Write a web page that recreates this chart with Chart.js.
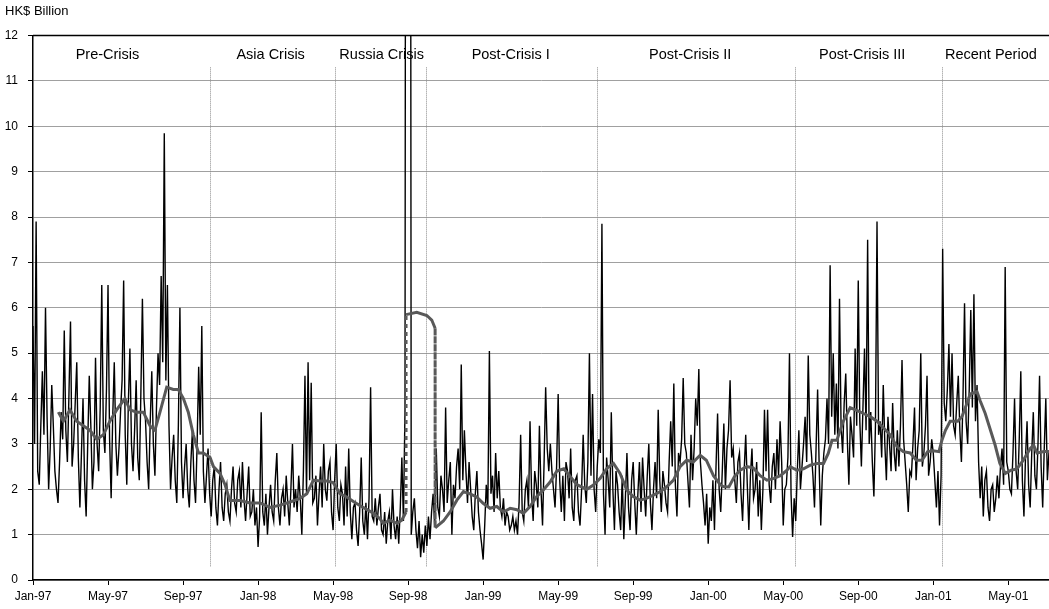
<!DOCTYPE html>
<html>
<head>
<meta charset="utf-8">
<title>HK$ Billion</title>
<script src="https://cdn.jsdelivr.net/npm/chart.js@4.4.0/dist/chart.umd.min.js"></script>
<style>
  html, body { margin: 0; padding: 0; background: #fff; }
  #wrap { width: 1049px; height: 609px; }
</style>
</head>
<body>
<div id="wrap"><canvas id="flowChart" width="1049" height="609"></canvas></div>
<script>
// x values are months counted from Jan-97
const tickMonths = [0, 4, 8, 12, 16, 20, 24, 28, 32, 36, 40, 44, 48, 52];
const tickLabels = ['Jan-97', 'May-97', 'Sep-97', 'Jan-98', 'May-98', 'Sep-98', 'Jan-99',
                    'May-99', 'Sep-99', 'Jan-00', 'May-00', 'Sep-00', 'Jan-01', 'May-01'];

const periodNames = ['Pre-Crisis', 'Asia Crisis', 'Russia Crisis', 'Post-Crisis I',
                     'Post-Crisis II', 'Post-Crisis III', 'Recent Period'];
const periodLabelMonths = [3.97, 12.67, 18.59, 25.47, 35.04, 44.21, 51.07];
const periodBreaks = [9.44, 16.1, 20.96, 30.08, 40.64, 48.48];

// turnover readings, one every 1/12 month from Jan-97
const STEP = 1 / 12;
const turnover = [
  5.6, 3.0, 7.9, 2.4, 2.1, 3.4, 4.6, 3.2, 6.0, 3.6, 2.0, 2.9, 4.3, 3.4, 2.4, 2.0, 1.7, 2.6, 3.7, 3.1,
  5.5, 3.3, 2.6, 4.1, 5.7, 2.5, 3.0, 3.9, 4.8, 2.7, 1.6, 2.8, 4.0, 2.2, 1.4, 3.0, 4.5, 3.4, 2.0, 2.6,
  4.9, 3.0, 2.4, 3.8, 6.5, 3.3, 2.8, 4.2, 6.5, 3.1, 1.8, 3.6, 4.8, 3.0, 2.3, 2.9, 3.7, 4.4, 6.6, 3.2,
  2.1, 3.9, 5.1, 3.0, 2.4, 3.3, 4.4, 2.7, 2.2, 4.1, 6.2, 4.0, 3.5, 2.6, 2.0, 3.5, 4.6, 3.0, 2.3, 3.8,
  5.0, 4.3, 6.7, 4.8, 9.85, 4.4, 6.5, 3.4, 2.0, 2.7, 3.2, 2.2, 1.7, 3.4, 6.0, 2.6, 1.8, 2.5, 3.0, 2.0,
  1.6, 2.6, 3.3, 2.2, 1.7, 3.0, 4.7, 3.2, 5.6, 2.4, 1.7, 2.3, 2.9, 1.9, 1.4, 2.2, 2.5, 1.6, 1.2, 2.0,
  2.6, 1.6, 1.3, 1.9, 2.1, 1.5, 1.3, 2.0, 2.5, 1.7, 1.5, 2.2, 2.4, 1.6, 2.6, 1.8, 1.3, 1.9, 2.5, 1.4,
  1.5, 2.0, 1.2, 1.6, 0.73, 1.4, 3.7, 1.5, 1.2, 1.9, 1.0, 1.6, 2.1, 1.5, 1.3, 2.2, 2.8, 1.6, 1.2, 1.8,
  2.0, 1.4, 2.3, 1.7, 1.2, 2.0, 3.0, 1.6, 2.0, 1.5, 2.3, 1.8, 1.0, 2.4, 4.5, 1.9, 4.8, 2.2, 4.35, 1.7,
  1.8, 2.3, 1.2, 1.9, 2.5, 1.6, 3.0, 2.0, 1.75, 2.4, 2.6, 1.5, 1.1, 2.2, 3.0, 1.6, 1.3, 2.1, 1.9, 1.2,
  2.5, 1.4, 2.9, 1.5, 0.9, 1.6, 1.7, 1.1, 0.75, 1.5, 2.7, 1.3, 1.0, 1.7, 0.9, 1.8, 4.25, 1.4, 1.3, 1.8,
  1.2, 1.6, 1.9, 1.1, 1.0, 1.5, 0.8, 1.3, 1.5, 0.9, 2.0, 1.2, 0.9, 1.4, 0.8, 1.6, 2.7, 1.3, 3.75, 40,
  40, 40, 1.0, 1.5, 1.8, 1.1, 0.7, 1.3, 0.5, 1.0, 0.6, 1.2, 0.75, 1.4, 0.9, 1.5, 1.9, 1.2, 2.9, 1.6,
  1.4, 2.3, 2.0, 1.5, 3.8, 1.7, 2.2, 2.6, 1.0, 2.1, 1.8, 2.5, 2.9, 2.0, 4.75, 2.2, 3.3, 2.4, 1.7, 2.6,
  2.0, 1.4, 1.1, 1.9, 2.4, 1.5, 1.1, 0.8, 0.45, 1.2, 2.1, 1.6, 5.05, 1.9, 2.3, 1.5, 2.8, 1.8, 2.4, 1.6,
  1.4, 1.8, 1.2, 1.5, 1.4, 1.1, 1.2, 1.4, 1.1, 1.3, 1.0, 1.7, 3.2, 1.5, 1.3, 2.0, 2.2, 1.6, 3.5, 1.9,
  1.3, 2.4, 2.1, 1.6, 3.4, 2.0, 1.2, 2.6, 4.25, 2.9, 2.4, 3.0, 2.4, 2.0, 1.6, 2.5, 4.1, 2.2, 1.5, 2.3,
  1.3, 2.6, 2.4, 1.8, 2.9, 1.6, 1.3, 2.2, 2.3, 1.5, 1.2, 2.0, 3.2, 2.1, 1.7, 2.6, 5.0, 2.3, 4.1, 2.0,
  1.5, 2.5, 3.1, 2.8, 7.85, 1.9, 1.0, 2.7, 2.2, 1.6, 3.7, 2.0, 1.1, 2.4, 2.1, 1.5, 1.1, 2.3, 0.9, 1.8,
  2.8, 1.6, 1.1, 2.2, 2.6, 1.7, 1.0, 1.9, 2.6, 1.5, 2.7, 2.0, 1.4, 2.3, 3.0, 1.7, 1.1, 2.0, 2.6, 1.8,
  3.75, 2.2, 1.5, 2.4, 2.1, 1.7, 1.5, 2.6, 3.5, 2.5, 4.33, 2.1, 1.4, 2.8, 2.6, 3.1, 4.45, 3.0, 2.8, 2.2,
  1.6, 3.2, 2.2, 2.9, 4.0, 3.4, 4.65, 2.6, 2.1, 1.7, 1.2, 1.9, 0.8, 1.6, 1.3, 2.2, 1.1, 2.5, 3.67, 2.0,
  1.5, 2.4, 3.45, 2.0, 2.9, 3.3, 4.4, 2.7, 2.9, 2.2, 1.7, 2.6, 2.8, 1.9, 1.3, 2.4, 3.2, 2.1, 1.1, 2.3,
  2.9, 1.8, 2.0, 2.6, 1.4, 2.2, 1.1, 2.0, 3.75, 2.4, 3.75, 2.1, 1.7, 2.5, 2.8, 2.0, 3.1, 2.3, 3.5, 2.6,
  1.2, 2.0, 2.1, 2.7, 5.0, 1.9, 0.95, 1.8, 1.3, 2.4, 3.3, 2.0, 2.5, 3.0, 3.6, 2.6, 4.95, 3.2, 2.8, 2.3,
  1.6, 2.9, 4.2, 2.5, 1.2, 2.3, 2.8, 3.1, 4.0, 3.0, 6.94, 3.6, 5.0, 3.2, 4.33, 2.9, 6.2, 3.4, 2.8, 3.9,
  4.55, 3.1, 2.1, 3.6, 3.2, 2.7, 5.1, 3.4, 6.6, 3.5, 2.5, 3.8, 5.1, 3.3, 7.5, 3.0, 3.7, 2.6, 1.84, 3.4,
  7.9, 3.2, 3.5, 2.7, 4.3, 3.0, 2.2, 3.6, 3.0, 2.4, 3.9, 2.8, 2.4, 3.3, 2.5, 3.4, 4.85, 3.1, 2.6, 2.1,
  1.5, 2.4, 2.3, 3.0, 3.8, 2.2, 2.9, 3.3, 5.0, 2.5, 2.8, 3.4, 4.5, 2.3, 2.6, 3.1, 2.8, 2.2, 1.6, 2.4,
  1.2, 2.3, 7.3, 3.9, 3.5, 4.2, 5.2, 3.6, 5.0, 3.4, 3.2, 3.9, 4.5, 3.3, 2.6, 4.0, 6.1, 3.5, 3.0, 4.2,
  5.95, 3.8, 6.3, 3.5, 4.3, 2.6, 1.8, 2.5, 1.4, 2.2, 2.4, 1.6, 1.3, 2.0, 2.1, 1.5, 1.8, 2.3, 1.8, 2.5,
  2.9, 2.1, 6.9, 2.6, 2.4, 2.0, 1.9, 2.8, 4.0, 2.4, 2.0, 3.1, 4.6, 2.2, 1.4, 2.7, 3.5, 2.1, 1.6, 2.8,
  3.7, 2.3, 2.0, 3.0, 4.5, 2.5, 1.6, 2.9, 4.0, 2.2, 2.8
];

// moving average; the repeated months around Sep-98 are the vertical jumps
const avgMonths = [
  1.35, 1.62, 1.97, 2.33, 2.68, 3.04, 3.4, 3.75, 4.1, 4.46,
  4.9, 5.17, 5.53, 5.88, 6.24, 6.5, 6.77, 7.13, 7.48, 7.75,
  8.02, 8.28, 8.55, 8.82, 9.08, 9.44, 9.62, 9.97, 10.24, 10.5,
  11.04, 11.57, 12.1, 12.64, 13.17, 13.7, 14.24, 14.6, 14.95, 15.3,
  15.66, 16.0, 16.37, 16.73, 17.08, 17.6, 18.15, 18.5, 18.68, 19.04,
  19.4, 19.66, 19.89, 19.89, 20.46, 21.0, 21.26, 21.44, 21.44, 21.88,
  22.24, 22.6, 22.95, 23.3, 23.66, 24.0, 24.37, 24.73, 25.08, 25.44,
  25.8, 26.15, 26.5, 26.86, 27.2, 27.57, 27.93, 28.3, 28.64, 29.0,
  29.53, 29.9, 30.24, 30.6, 30.95, 31.3, 31.66, 32.0, 32.37, 32.7,
  33.08, 33.45, 33.8, 34.15, 34.5, 34.85, 35.2, 35.57, 35.9, 36.28,
  36.64, 36.8, 37.1, 37.4, 37.7, 38.06, 38.4, 38.77, 39.13, 39.5,
  39.85, 40.2, 40.37, 40.73, 41.08, 41.44, 41.8, 42.15, 42.4, 42.6,
  42.86, 43.2, 43.57, 43.92, 44.28, 44.64, 45.0, 45.35, 45.7, 46.06,
  46.4, 46.77, 47.1, 47.4, 47.7, 48.0, 48.3, 48.46, 48.65, 48.9,
  49.3, 49.53, 49.8, 49.97, 50.33, 50.5, 50.77, 51.05, 51.3, 51.55,
  51.84, 52.15, 52.46, 52.8, 53.17, 53.35, 53.53, 53.9, 54.17
];
const avgValues = [
  3.7, 3.5, 3.75, 3.5, 3.4, 3.3, 3.1, 3.2, 3.5, 3.75,
  4.0, 3.75, 3.7, 3.7, 3.4, 3.3, 3.7, 4.25, 4.2, 4.2,
  4.0, 3.7, 3.2, 2.8, 2.8, 2.7, 2.5, 2.35, 2.1, 1.75,
  1.75, 1.7, 1.7, 1.6, 1.65, 1.72, 1.8, 1.9, 2.2, 2.18,
  2.18, 2.15, 1.9, 1.83, 1.73, 1.6, 1.47, 1.35, 1.25, 1.32,
  1.25, 1.32, 1.5, 5.85, 5.9, 5.83, 5.73, 5.55, 1.15, 1.3,
  1.5, 1.76, 1.95, 1.9, 1.83, 1.69, 1.58, 1.62, 1.5, 1.58,
  1.55, 1.47, 1.62, 1.84, 1.98, 2.16, 2.4, 2.45, 2.28, 2.1,
  2.0, 2.1, 2.24, 2.46, 2.57, 2.35, 1.98, 1.84, 1.76, 1.8,
  1.87, 1.95, 2.06, 2.2, 2.5, 2.64, 2.6, 2.75, 2.64, 2.3,
  2.1, 2.06, 2.05, 2.28, 2.42, 2.5, 2.47, 2.3, 2.2, 2.24,
  2.3, 2.42, 2.5, 2.42, 2.45, 2.53, 2.57, 2.57, 2.79, 3.08,
  3.08, 3.5, 3.8, 3.74, 3.67, 3.6, 3.5, 3.35, 3.2, 2.94,
  2.83, 2.8, 2.64, 2.64, 2.83, 2.85, 2.83, 3.08, 3.3, 3.5,
  3.5, 3.6, 3.9, 4.1, 4.15, 3.95, 3.67, 3.3, 2.97, 2.57,
  2.35, 2.42, 2.45, 2.64, 2.9, 2.97, 2.8, 2.83, 2.83
];

const FONT = "'Liberation Sans', Arial, sans-serif";
const DIVIDER_TOP = 11.3;
const DIVIDER_BOTTOM = 0.3;
const LABEL_LEVEL = 11.58;

const dailyPoints = turnover.map((v, i) => ({ x: i * STEP, y: v }));
const avgPoints = avgMonths.map((m, i) => ({ x: m, y: avgValues[i] }));

// dotted period dividers, period names and the top frame line
const periodPlugin = {
  id: 'periods',
  beforeDatasetsDraw(chart) {
    const { ctx, scales: { x, y } } = chart;
    ctx.save();
    ctx.strokeStyle = '#8c8c8c';
    ctx.lineWidth = 1;
    ctx.setLineDash([1, 1]);
    periodBreaks.forEach(m => {
      const px = Math.round(x.getPixelForValue(m)) + 0.5;
      ctx.beginPath();
      ctx.moveTo(px, y.getPixelForValue(DIVIDER_TOP));
      ctx.lineTo(px, y.getPixelForValue(DIVIDER_BOTTOM));
      ctx.stroke();
    });
    ctx.setLineDash([]);
    ctx.fillStyle = '#000';
    ctx.font = '14.5px ' + FONT;
    ctx.textAlign = 'center';
    ctx.textBaseline = 'middle';
    periodNames.forEach((name, i) => {
      ctx.fillText(name, x.getPixelForValue(periodLabelMonths[i]), y.getPixelForValue(LABEL_LEVEL));
    });
    ctx.restore();
  },
  afterDraw(chart) {
    const { ctx, chartArea } = chart;
    ctx.save();
    ctx.strokeStyle = '#000';
    ctx.lineWidth = 1.5;
    ctx.beginPath();
    ctx.moveTo(chartArea.left, chartArea.top);
    ctx.lineTo(chartArea.right, chartArea.top);
    ctx.stroke();
    ctx.restore();
  }
};

Chart.defaults.font.family = FONT;
Chart.defaults.color = '#000';

new Chart(document.getElementById('flowChart'), {
  type: 'line',
  data: {
    datasets: [
      {
        label: 'Moving average',
        data: avgPoints,
        borderColor: '#595959',
        borderWidth: 3,
        pointRadius: 0,
        tension: 0,
        order: 0,
        segment: {
          borderDash: c => (c.p0.parsed.x === c.p1.parsed.x ? [4, 4] : undefined)
        }
      },
      {
        label: 'Daily',
        data: dailyPoints,
        borderColor: '#000',
        borderWidth: 1.4,
        pointRadius: 0,
        tension: 0,
        order: 1
      }
    ]
  },
  options: {
    responsive: false,
    animation: false,
    devicePixelRatio: 1,
    layout: { padding: { left: 5, right: 0, top: 0, bottom: 0 } },
    plugins: {
      legend: { display: false },
      tooltip: { enabled: false },
      title: {
        display: true,
        text: 'HK$ Billion',
        align: 'start',
        color: '#000',
        font: { size: 13, weight: 'normal' },
        padding: { top: 4, bottom: 16 }
      }
    },
    scales: {
      x: {
        type: 'linear',
        min: 0,
        max: 54.17,
        afterBuildTicks: s => { s.ticks = tickMonths.map(v => ({ value: v })); },
        afterFit: s => { s.height = 29; },
        ticks: {
          autoSkip: false,
          maxRotation: 0,
          padding: 4,
          font: { size: 12 },
          callback: v => tickLabels[tickMonths.indexOf(v)]
        },
        grid: { drawOnChartArea: false, tickLength: 5, tickColor: '#000' },
        border: { color: '#000', width: 1.5 }
      },
      y: {
        min: 0,
        max: 12,
        afterFit: s => { s.width = 28; },
        ticks: { stepSize: 1, padding: 10, font: { size: 12 } },
        grid: { color: '#a0a0a0', tickColor: '#000', tickLength: 5 },
        border: { color: '#000', width: 1.5 }
      }
    }
  },
  plugins: [periodPlugin]
});
</script>
</body>
</html>
